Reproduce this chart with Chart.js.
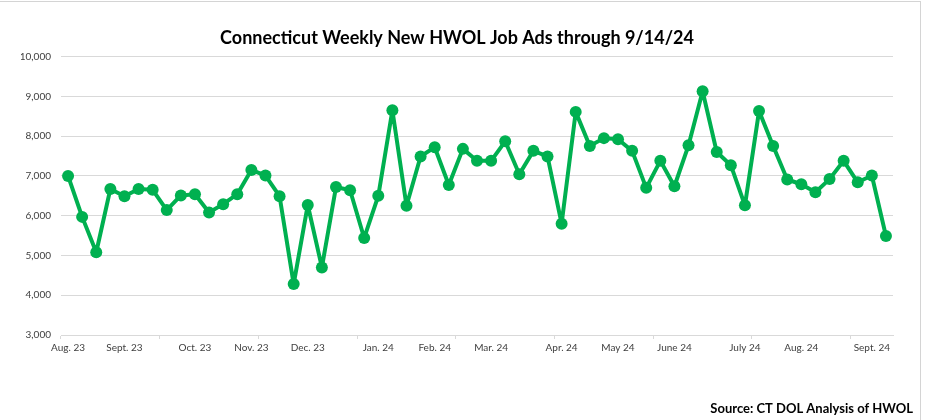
<!DOCTYPE html>
<html>
<head>
<meta charset="utf-8">
<script src="https://cdn.jsdelivr.net/npm/chart.js@4.4.1/dist/chart.umd.min.js"></script>
<style>
  html, body { margin: 0; padding: 0; background: #ffffff; }
  #marco { position: relative; width: 925px; height: 420px; }
  #borde { position: absolute; left: 0; top: 1px; width: 921px; height: 419px;
           border-top: 1px solid #d4d4d4; border-right: 1px solid #d4d4d4; box-sizing: border-box; }
  canvas { position: absolute; left: 0; top: 0; }
</style>
</head>
<body>
<div id="marco">
  <div id="borde"></div>
  <canvas id="grafico" width="925" height="420"></canvas>
</div>
<script>
// semanas (59) que terminan el sábado, del 5/8/23 al 14/9/24; solo la primera semana de cada mes lleva etiqueta
const etiquetasMes = {
  0: "Aug. 23", 4: "Sept. 23", 9: "Oct. 23", 13: "Nov. 23", 17: "Dec. 23",
  22: "Jan. 24", 26: "Feb. 24", 30: "Mar. 24", 35: "Apr. 24", 39: "May 24",
  43: "June 24", 48: "July 24", 52: "Aug. 24", 57: "Sept. 24"
};
const semanas = Array.from({ length: 59 }, (_, i) => etiquetasMes[i] || "");

// avisos nuevos por semana
const avisos = [
  7000, 5970, 5080, 6670, 6490, 6670, 6650, 6140, 6510, 6540,
  6080, 6290, 6540, 7150, 7010, 6490, 4280, 6270, 4700, 6720,
  6640, 5440, 6500, 8650, 6250, 7490, 7720, 6770, 7680, 7380,
  7380, 7870, 7040, 7630, 7490, 5800, 8610, 7750, 7950, 7920,
  7630, 6700, 7380, 6740, 7770, 9130, 7600, 7270, 6260, 8630,
  7750, 6910, 6790, 6590, 6920, 7380, 6840, 7010, 5490
];

const ejeY = { min: 3000, max: 10000, paso: 1000 };

const titulo = "Connecticut Weekly New HWOL Job Ads through 9/14/24";
const fuente = "Source: CT DOL Analysis of HWOL";

const fuenteTexto = "Lato, 'Open Sans', sans-serif";
const verde = "#00b050";
const gris = "#d9d9d9";

// texto de la fuente abajo a la derecha
const fuentePlugin = {
  id: "fuente",
  afterDraw(chart) {
    const ctx = chart.ctx;
    ctx.save();
    ctx.font = "bold 13px " + fuenteTexto;
    ctx.fillStyle = "#000000";
    ctx.textAlign = "right";
    ctx.textBaseline = "middle";
    ctx.fillText(fuente, 913, 409);
    ctx.restore();
  }
};

const ctx = document.getElementById("grafico").getContext("2d");
new Chart(ctx, {
  type: "line",
  data: {
    labels: semanas,
    datasets: [{
      label: "New HWOL Job Ads",
      data: avisos,
      borderColor: verde,
      backgroundColor: verde,
      borderWidth: 4,
      borderJoinStyle: "round",
      borderCapStyle: "round",
      tension: 0,
      pointRadius: 6,
      pointHoverRadius: 6,
      pointBackgroundColor: verde,
      pointBorderColor: verde,
      pointBorderWidth: 0
    }]
  },
  options: {
    responsive: false,
    animation: false,
    layout: { padding: { left: 21, right: 32, top: 0, bottom: 62 } },
    plugins: {
      legend: { display: false },
      tooltip: { enabled: false },
      title: {
        display: true,
        text: titulo,
        color: "#000000",
        font: { family: fuenteTexto, size: 18, weight: "bold" },
        padding: { top: 27, bottom: 8 }
      }
    },
    scales: {
      x: {
        offset: true,
        grid: {
          display: true,
          offset: true,
          drawOnChartArea: false,
          drawTicks: true,
          tickLength: 4,
          color: (c) => (c.index % 7 === 0 ? gris : "rgba(0,0,0,0)")
        },
        border: { display: true, color: gris, width: 1 },
        ticks: {
          autoSkip: false,
          maxRotation: 0,
          minRotation: 0,
          padding: 3,
          color: "#404040",
          font: { family: fuenteTexto, size: 10 }
        },
        afterFit: (s) => { s.height = 23; }
      },
      y: {
        min: ejeY.min,
        max: ejeY.max,
        grid: { color: gris, drawTicks: false },
        border: { display: false },
        ticks: {
          stepSize: ejeY.paso,
          padding: 10,
          color: "#404040",
          font: { family: fuenteTexto, size: 10 },
          callback: (v) => v.toLocaleString("en-US")
        },
        afterFit: (s) => { s.width = 40; }
      }
    }
  },
  plugins: [fuentePlugin]
});
</script>
</body>
</html>
